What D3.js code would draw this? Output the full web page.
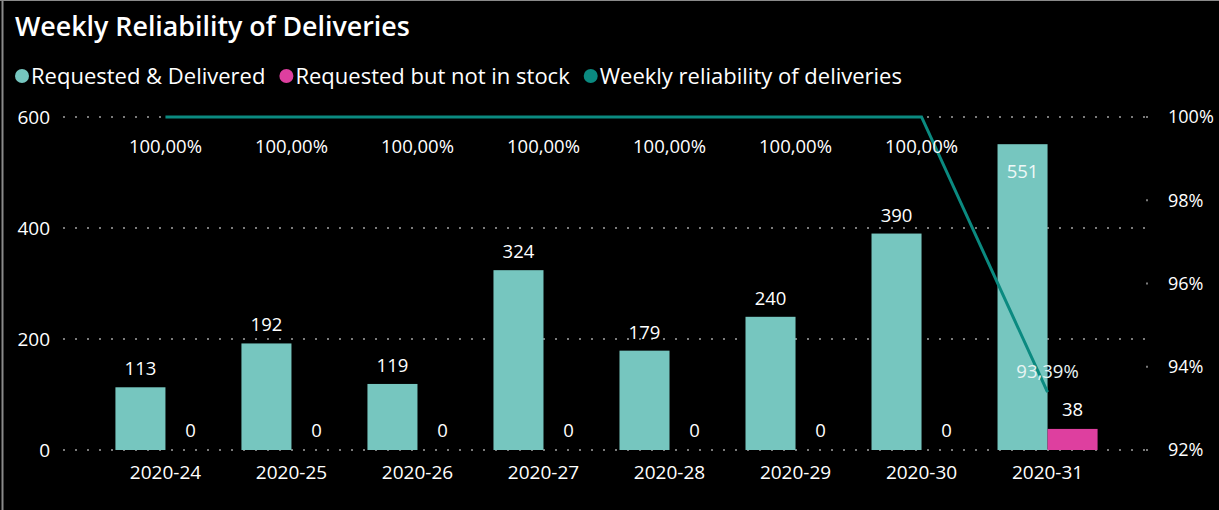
<!DOCTYPE html>
<html>
<head>
<meta charset="utf-8">
<script src="https://cdn.jsdelivr.net/npm/d3@7"></script>
<style>
  body { margin: 0; background: #000; }
  text { font-family: "Open Sans", sans-serif; }
</style>
</head>
<body>
<div id="chart"></div>
<script>
let weeks = ["2020-24","2020-25","2020-26","2020-27","2020-28","2020-29","2020-30","2020-31"]
let delivered = [113,192,119,324,179,240,390,551]
let notInStock = [0,0,0,0,0,0,0,38]
let reliability = [100,100,100,100,100,100,100,93.39]
let leftTicks = [0,200,400,600]
let rightTicks = [92,94,96,98,100]
let legendItems = [
    {name: "Requested & Delivered", color: "#76c6bf"},
    {name: "Requested but not in stock", color: "#de3f9f"},
    {name: "Weekly reliability of deliveries", color: "#0b8a80"}
]

function getConfig(){
    let width = 1219, height = 510
    let margin = {top: 117, bottom: 60, left: 63, right: 69}
    let bodyWidth = width - margin.left - margin.right
    let bodyHeight = height - margin.top - margin.bottom
    let svg = d3.select("#chart").append("svg")
        .attr("width", width)
        .attr("height", height)
    svg.append("rect").attr("width", width).attr("height", height).attr("fill", "#000")
    let container = svg.append("g")
        .attr("transform", "translate(" + [margin.left, margin.top] + ")")
    return {width, height, margin, bodyWidth, bodyHeight, svg, container}
}

function getScales(config){
    let {bodyWidth, bodyHeight} = config
    let xScale = d3.scaleBand()
        .domain(weeks)
        .range([0, bodyWidth])
        .paddingInner(0.206)
        .paddingOuter(0.416)
    let xSub = d3.scaleBand()
        .domain(["d","n"])
        .range([0, xScale.bandwidth()])
    let yScale = d3.scaleLinear().domain([0,600]).range([bodyHeight, 0])
    let pScale = d3.scaleLinear().domain([92,100]).range([bodyHeight, 0])
    return {xScale, xSub, yScale, pScale}
}

function drawChart(config, scales){
    let {svg, container, bodyWidth, bodyHeight, width} = config
    let {xScale, xSub, yScale, pScale} = scales

    // border
    svg.append("line").attr("x1",2.5).attr("x2",2.5).attr("y1",0).attr("y2",510)
        .style("stroke","#8a8a8a").style("stroke-width",2)
    svg.append("line").attr("x1",0).attr("x2",width).attr("y1",0.5).attr("y2",0.5)
        .style("stroke","#8a8a8a").style("stroke-width",1)

    svg.append("text")
        .attr("x", 15).attr("y", 36)
        .text("Weekly Reliability of Deliveries")
        .style("fill", "#fff").style("font-size", "26.8px").style("font-weight", 600)

    let lx = 22
    legendItems.forEach(item => {
        svg.append("circle").attr("cx", lx).attr("cy", 76).attr("r", 7).style("fill", item.color)
        let t = svg.append("text").attr("x", lx + 9).attr("y", 84)
            .text(item.name).style("fill", "#fff").style("font-size", "22px")
        lx += 9 + t.node().getComputedTextLength() + 21
    })

    // gridlines (left axis)
    leftTicks.forEach(v => {
        container.append("line")
            .attr("x1", 0).attr("x2", bodyWidth)
            .attr("y1", yScale(v)).attr("y2", yScale(v))
            .style("stroke", "#7a7a7a").style("stroke-width", 2)
            .style("stroke-dasharray", "2,10")
    })
    // right axis dots
    rightTicks.forEach(v => {
        container.append("line")
            .attr("x1", bodyWidth - 4).attr("x2", bodyWidth - 2)
            .attr("y1", pScale(v)).attr("y2", pScale(v))
            .style("stroke", "#7a7a7a").style("stroke-width", 2)
    })

    let axisL = d3.axisLeft(yScale).tickValues(leftTicks).tickSize(0).tickPadding(13)
    let gL = container.append("g").call(axisL)
    let axisR = d3.axisRight(pScale).tickValues(rightTicks).tickSize(0).tickPadding(18)
        .tickFormat(d => d + "%")
    let gR = container.append("g").attr("transform", "translate(" + bodyWidth + ",0)").call(axisR)
    let axisB = d3.axisBottom(xScale).tickSize(0).tickPadding(16)
    let gB = container.append("g").attr("transform", "translate(0," + bodyHeight + ")").call(axisB)
    ;[gL, gR, gB].forEach(g => {
        g.select(".domain").remove()
        g.selectAll("text").style("fill", "#fff").style("font-size", "19px")
            .style("font-family", "'Open Sans', sans-serif")
    })
    gR.selectAll("text").style("font-size", "18px")

    let groups = container.selectAll(".grp").data(weeks).enter().append("g")
        .attr("transform", d => "translate(" + xScale(d) + ",0)")

    groups.append("rect")
        .attr("x", xSub("d")).attr("width", xSub.bandwidth())
        .attr("y", (d, i) => yScale(delivered[i]))
        .attr("height", (d, i) => bodyHeight - yScale(delivered[i]))
        .style("fill", "#76c6bf")
    groups.append("rect")
        .attr("x", xSub("n")).attr("width", xSub.bandwidth())
        .attr("y", (d, i) => yScale(notInStock[i]))
        .attr("height", (d, i) => bodyHeight - yScale(notInStock[i]))
        .style("fill", "#de3f9f")

    // bar labels
    groups.append("text")
        .attr("x", xSub("d") + xSub.bandwidth() / 2)
        .attr("y", (d, i) => delivered[i] > 520 ? yScale(delivered[i]) + 34 : yScale(delivered[i]) - 12)
        .attr("text-anchor", "middle")
        .text((d, i) => delivered[i])
        .style("fill", (d, i) => delivered[i] > 520 ? "#eef8f7" : "#fff")
        .style("font-size", "18.5px")
    groups.append("text")
        .attr("x", xSub("n") + xSub.bandwidth() / 2)
        .attr("y", (d, i) => yScale(notInStock[i]) - 13)
        .attr("text-anchor", "middle")
        .text((d, i) => notInStock[i])
        .style("fill", "#fff").style("font-size", "18.5px")

    // line
    let cx = d => xScale(d) + xScale.bandwidth() / 2
    let line = d3.line().x((d, i) => cx(weeks[i])).y(d => pScale(d))
    container.append("path")
        .datum(reliability)
        .attr("d", line)
        .style("fill", "none").style("stroke", "#0b8a80").style("stroke-width", 3)

    container.selectAll(".pl").data(reliability).enter().append("text")
        .attr("x", (d, i) => cx(weeks[i]))
        .attr("y", d => d >= 99.9 ? pScale(d) + 36 : pScale(d) - 14)
        .attr("text-anchor", "middle")
        .text(d => d.toFixed(2).replace(".", ",") + "%")
        .style("fill", d => d >= 99.9 ? "#fff" : "#e8f4f3").style("font-size", "18.5px")
}

let config = getConfig()
let scales = getScales(config)
drawChart(config, scales)
</script>
</body>
</html>
